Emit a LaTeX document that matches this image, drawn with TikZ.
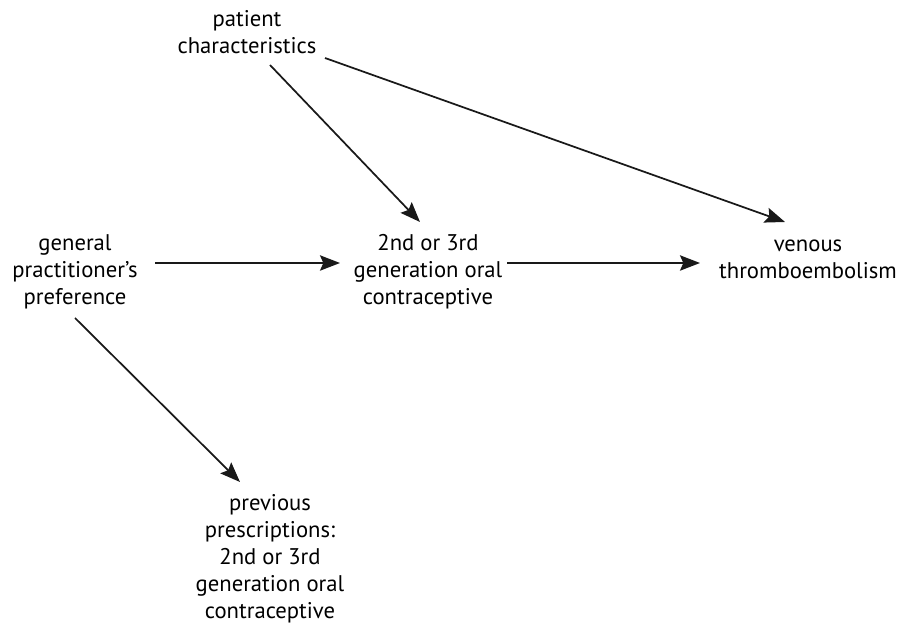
\documentclass[tikz,border=0pt]{standalone}
\usepackage{fontspec}
\setmainfont{PT Sans}
\usetikzlibrary{arrows.meta,calc}
\begin{document}
\begin{tikzpicture}[x=0.75pt,y=-0.75pt,
  lbl/.style={align=center,inner sep=2pt,font=\fontsize{17}{20.25}\selectfont},
  arr/.style={-{Stealth[length=15pt,width=11.5pt,inset=2.5pt]},line width=1.3pt,black!90}]
\useasboundingbox (0,0) rectangle (902,630);
\node[lbl] (pc) at (247,32) {patient\\characteristics};
\node[lbl] (gp) at (75,272) {general\\practitioner’s\\preference};
\node[lbl] (oc) at (428,272) {2nd or 3rd\\generation oral\\contraceptive};
\node[lbl] (vt) at (808,259) {venous\\thromboembolism};
\node[lbl] (pp) at (270,559) {previous\\prescriptions:\\2nd or 3rd\\generation oral\\contraceptive};
\draw[arr] ($(pc)+(23,33)$) -- ($(oc)+(-8,-50)$);
\draw[arr] ($(pc)+(78,26)$) -- ($(vt)+(-23,-37)$);
\draw[arr] ($(gp)+(80,-9)$) -- ($(oc)+(-88,-9)$);
\draw[arr] ($(oc)+(79,-9)$) -- ($(vt)+(-108,4)$);
\draw[arr] ($(gp)+(0,46)$) -- ($(pp)+(-30,-77)$);
\end{tikzpicture}
\end{document}
